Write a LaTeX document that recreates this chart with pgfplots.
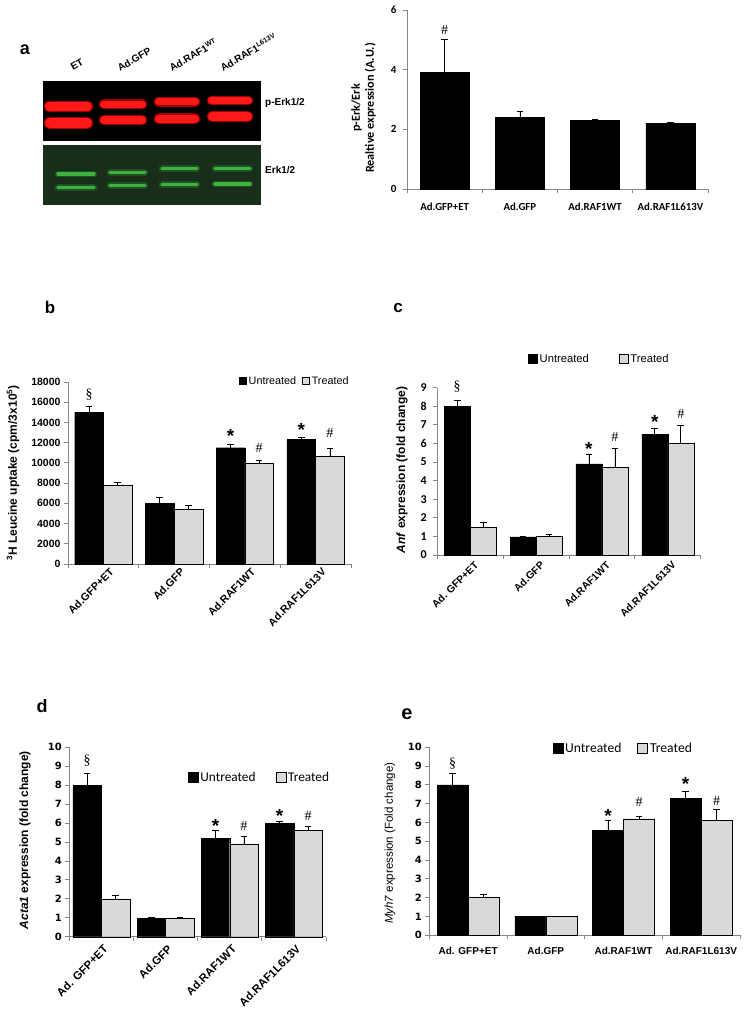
\documentclass[border=0pt]{standalone}
\usepackage{fontspec}
\setmainfont{Liberation Sans}
\newfontfamily\calibri{Carlito}
\newfontfamily\serifff{Liberation Serif}
\newfontfamily\dejavu{DejaVu Sans}
\usepackage{pgfplots}
\pgfplotsset{compat=1.18}
\definecolor{tgray}{RGB}{217,217,217}
\definecolor{axgray}{RGB}{134,134,134}
\definecolor{blotred}{RGB}{255,24,24}
\definecolor{blotglow}{RGB}{200,0,0}
\definecolor{greenbg}{RGB}{24,46,26}
\definecolor{greenband}{RGB}{62,178,62}
\definecolor{greenglow}{RGB}{36,96,38}
\newcommand{\fs}[1]{\fontsize{#1}{#1}\selectfont}
\tikzset{
  star/.style={font=\bfseries\fs{19}, anchor=center, yshift=-4pt},
  hsh/.style={font=\serifff\fs{14}, anchor=center},
}
\pgfplotsset{
  excel/.style={
    scale only axis,
    axis x line=bottom, axis y line=left,
    axis line style={-, draw=axgray, line width=0.8pt},
    xmin=-0.5, xmax=3.5, ymin=0,
    xtick={0,1,2,3},
    minor xtick={-0.5,0.5,1.5,2.5,3.5},
    major x tick style={draw=none},
    minor x tick style={draw=axgray, line width=0.8pt},
    y tick style={draw=axgray, line width=0.8pt},
    tick align=outside,
    major tick length=4pt, minor tick length=4pt,
    /pgf/number format/assume math mode=true,
    /pgf/number format/1000 sep={},
    scaled y ticks=false,
    clip=false,
    xticklabels={Ad.GFP+ET, Ad.GFP, Ad.RAF1WT, Ad.RAF1L613V},
  },
  sqleg/.style={legend image code/.code={\draw[##1, line width=0.6pt] (0pt,-#1) rectangle (2*#1,#1);}},
  ebar/.style={error bars/.cd, y dir=plus, y explicit,
    error bar style={black, line width=0.7pt},
    error mark options={rotate=90, black, line width=0.7pt, mark size=3.3pt}},
}
\begin{document}
\begin{tikzpicture}
\useasboundingbox (0pt,0pt) rectangle (745pt,1018pt);
% ---------------- panel a: blot ----------------
\node[font=\bfseries\fs{18}] at (25pt,968pt) {a};
\begin{axis}[at={(42.7pt,876.7pt)}, anchor=south west, scale only axis,
  width=218.3pt, height=60.6pt, xmin=42.7, xmax=261, ymin=80.7, ymax=141.3,
  y dir=reverse, ticks=none, axis line style={draw=none},
  axis background/.style={fill=black}, clip=false]
\pgfplotsset{rb/.style={blotglow, line width=#1, line cap=round, opacity=0.8},
             rf/.style={blotred, line width=#1, line cap=round}}
\addplot[rb=11.5pt] coordinates {(49.4,106.3) (87.6,106.3)};
\addplot[rb=12.5pt] coordinates {(50,123) (87,123)};
\addplot[rb=10pt] coordinates {(103.7,104.3) (142.3,104.3)};
\addplot[rb=10.5pt] coordinates {(103.9,120.2) (142.1,120.2)};
\addplot[rb=10pt] coordinates {(158.7,101.7) (195.3,101.7)};
\addplot[rb=11pt] coordinates {(159.2,118.8) (194.8,118.8)};
\addplot[rb=9.5pt] coordinates {(211.5,100.5) (248.5,100.5)};
\addplot[rb=11pt] coordinates {(212.2,116.5) (247.8,116.5)};
\addplot[rf=8.7pt] coordinates {(49.4,106.3) (87.6,106.3)};
\addplot[rf=10pt] coordinates {(50,123) (87,123)};
\addplot[rf=7.3pt] coordinates {(103.7,104.3) (142.3,104.3)};
\addplot[rf=7.7pt] coordinates {(103.9,120.2) (142.1,120.2)};
\addplot[rf=7.3pt] coordinates {(158.7,101.7) (195.3,101.7)};
\addplot[rf=8.3pt] coordinates {(159.2,118.8) (194.8,118.8)};
\addplot[rf=7pt] coordinates {(211.5,100.5) (248.5,100.5)};
\addplot[rf=8.3pt] coordinates {(212.2,116.5) (247.8,116.5)};
\node[font=\bfseries\fs{10}, rotate=30, anchor=south west, inner sep=0pt] at (axis cs:73,71) {ET};
\node[font=\bfseries\fs{10}, rotate=30, anchor=south west, inner sep=0pt] at (axis cs:120,72) {Ad.GFP};
\node[font=\bfseries\fs{10}, rotate=30, anchor=south west, inner sep=0pt] at (axis cs:172,72) {Ad.RAF1\textsuperscript{WT}};
\node[font=\bfseries\fs{10}, rotate=30, anchor=south west, inner sep=0pt] at (axis cs:223,72) {Ad.RAF1\textsuperscript{L613V}};
\node[font=\bfseries\fs{10}, anchor=west, inner sep=0pt] at (axis cs:265,103) {p-Erk1/2};
\end{axis}
\begin{axis}[at={(42.7pt,813.3pt)}, anchor=south west, scale only axis,
  width=218.3pt, height=60pt, xmin=42.7, xmax=261, ymin=144.7, ymax=204.7,
  y dir=reverse, ticks=none, axis line style={draw=none},
  axis background/.style={fill=greenbg}, clip=false]
\pgfplotsset{gb/.style={greenglow, line width=6.5pt, line cap=round, opacity=0.7},
             gf/.style={greenband, line width=3.4pt, line cap=round}}
\addplot[gb] coordinates {(58,174) (94,174)};
\addplot[gb] coordinates {(58,187.3) (94,187.3)};
\addplot[gb] coordinates {(110,172.3) (145,172.3)};
\addplot[gb] coordinates {(110,185.7) (145,185.7)};
\addplot[gb] coordinates {(162,168.7) (197,168.7)};
\addplot[gb] coordinates {(162,184.7) (197,184.7)};
\addplot[gb] coordinates {(215,168.7) (250,168.7)};
\addplot[gb] coordinates {(215,184) (250,184)};
\addplot[gf] coordinates {(58,174) (94,174)};
\addplot[gf] coordinates {(58,187.3) (94,187.3)};
\addplot[gf] coordinates {(110,172.3) (145,172.3)};
\addplot[gf] coordinates {(110,185.7) (145,185.7)};
\addplot[gf] coordinates {(162,168.7) (197,168.7)};
\addplot[gf] coordinates {(162,184.7) (197,184.7)};
\addplot[gf] coordinates {(215,168.7) (250,168.7)};
\addplot[gf] coordinates {(215,184) (250,184)};
\node[font=\bfseries\fs{10}, anchor=west, inner sep=0pt] at (axis cs:265,170) {Erk1/2};
\end{axis}
% ---------------- panel a: bar chart ----------------
\begin{axis}[excel, at={(407pt,829pt)}, anchor=south west, width=301pt, height=179pt,
  ymax=6, ytick={0,2,4,6},
  yticklabel style={font=\calibri\bfseries\fs{11}, xshift=-3pt},
  xticklabel style={font=\calibri\bfseries\fs{10.8}, yshift=-6pt},
  xticklabels={Ad.GFP+ET, Ad.GFP, Ad.RAF1WT, Ad.RAF1L613V},
  ylabel={p-Erk/Erk\\Realtive expression (A.U.)},
  ylabel style={at={(axis description cs:-0.1445,0.4525)}, anchor=center, align=center,
    font=\calibri\bfseries\fontsize{12.2}{14}\selectfont}]
\addplot[ybar, bar width=0.65, bar shift=0, fill=black, draw=black, ebar]
  coordinates {(0,3.9) +- (0,1.1) (1,2.4) +- (0,0.2) (2,2.3) +- (0,0.02) (3,2.2) +- (0,0.02)};
\node[hsh] at (axis cs:0,5.33) {\#};
\end{axis}
% ---------------- panel b ----------------
\node[font=\bfseries\fs{17}] at (50pt,711pt) {b};
\begin{axis}[excel, at={(68pt,454pt)}, anchor=south west, width=283pt, height=182pt,
  ymax=18000, ytick={0,2000,...,18000},
  yticklabel style={font=\bfseries\fs{10.5}},
  xticklabel style={font=\bfseries\fs{10.7}, rotate=45, anchor=north east, xshift=8pt},
  ylabel={\textsuperscript{3}H Leucine uptake (cpm/3x10\textsuperscript{5})},
  ylabel style={at={(axis description cs:-0.194,0.5)}, anchor=center, font=\bfseries\fs{12}},
  legend columns=2,
  legend style={at={(axis description cs:0.604,1.005)}, anchor=west, draw=none, fill=none,
    font=\fs{10.8}, inner sep=0pt, /tikz/every even column/.append style={column sep=4pt}},
  ]
\addplot[ybar, bar width=0.405, bar shift=0, fill=black, draw=black, sqleg=3.5pt, ebar]
  coordinates {(-0.2025,15000) +- (0,600) (0.7975,6000) +- (0,600) (1.7975,11500) +- (0,350) (2.7975,12300) +- (0,200)};
\addplot[ybar, bar width=0.405, bar shift=0, fill=tgray, draw=black, sqleg=3.5pt, ebar]
  coordinates {(0.2025,7800) +- (0,300) (1.2025,5450) +- (0,350) (2.2025,10000) +- (0,300) (3.2025,10700) +- (0,700)};
\legend{Untreated, Treated}
\node[hsh] at (axis cs:-0.2025,16730) {\S};
\node[star] at (axis cs:1.7975,13100) {*};
\node[hsh] at (axis cs:2.2025,11520) {\#};
\node[star] at (axis cs:2.7975,13660) {*};
\node[hsh] at (axis cs:3.2025,13000) {\#};
\end{axis}
% ---------------- panel c ----------------
\node[font=\bfseries\fs{17}] at (398pt,710pt) {c};
\begin{axis}[excel, at={(437.3pt,463pt)}, anchor=south west, width=263.4pt, height=167.3pt,
  ymax=9, ytick={0,1,...,9},
  yticklabel style={font=\calibri\bfseries\fs{12}, xshift=-3pt},
  xticklabel style={font=\bfseries\fs{10.3}, rotate=45, anchor=north east, xshift=5pt},
  xticklabels={Ad. GFP+ET, Ad.GFP, Ad.RAF1WT, Ad.RAF1L613V},
  ylabel={\textbf{\textit{Anf}} expression (fold change)},
  ylabel style={at={(axis description cs:-0.134,0.508)}, anchor=center, font=\bfseries\fs{12}},
  legend columns=2,
  legend style={at={(axis description cs:0.344,1.1716)}, anchor=west, draw=none, fill=none,
    font=\fs{11.2}, inner sep=0pt, /tikz/every even column/.append style={column sep=28pt}},
  ]
\addplot[ybar, bar width=0.395, bar shift=0, fill=black, draw=black, sqleg=4.5pt, ebar]
  coordinates {(-0.1975,8.0) +- (0,0.33) (0.8025,0.98) +- (0,0.03) (1.8025,4.9) +- (0,0.5) (2.8025,6.5) +- (0,0.3)};
\addplot[ybar, bar width=0.395, bar shift=0, fill=tgray, draw=black, sqleg=4.5pt, ebar]
  coordinates {(0.1975,1.5) +- (0,0.27) (1.1975,1.02) +- (0,0.08) (2.1975,4.7) +- (0,1.05) (3.1975,6.0) +- (0,0.95)};
\legend{Untreated, Treated}
\node[hsh] at (axis cs:-0.1975,9.05) {\S};
\node[star] at (axis cs:1.8025,5.91) {*};
\node[hsh] at (axis cs:2.1975,6.36) {\#};
\node[star] at (axis cs:2.8025,7.38) {*};
\node[hsh] at (axis cs:3.1975,7.58) {\#};
\end{axis}
% ---------------- panel d ----------------
\node[font=\bfseries\fs{18}] at (42pt,312pt) {d};
\begin{axis}[excel, at={(69.3pt,81.3pt)}, anchor=south west, width=256.7pt, height=189.4pt,
  ymax=10, ytick={0,1,...,10},
  yticklabel style={font=\dejavu\bfseries\fs{10}},
  xticklabel style={font=\bfseries\fs{11.3}, rotate=45, anchor=north east, xshift=2pt},
  xticklabels={Ad. GFP+ET, Ad.GFP, Ad.RAF1WT, Ad.RAF1L613V},
  ylabel={\textbf{\textit{Acta1}} expression (fold change)},
  ylabel style={at={(axis description cs:-0.1726,0.51)}, anchor=center, font=\bfseries\fs{12}},
  legend columns=2,
  legend style={at={(axis description cs:0.461,0.8395)}, anchor=west, draw=none, fill=none,
    font=\calibri\fs{13.3}, inner sep=0pt, /tikz/every even column/.append style={column sep=18pt}},
  ]
\addplot[ybar, bar width=0.444, bar shift=0, fill=black, draw=black, sqleg=5pt, ebar]
  coordinates {(-0.222,8.0) +- (0,0.6) (0.778,0.98) +- (0,0.02) (1.778,5.2) +- (0,0.4) (2.778,6.0) +- (0,0.1)};
\addplot[ybar, bar width=0.444, bar shift=0, fill=tgray, draw=black, sqleg=5pt, ebar]
  coordinates {(0.222,2.0) +- (0,0.2) (1.222,1.0) +- (0,0.01) (2.222,4.9) +- (0,0.4) (3.222,5.6) +- (0,0.2)};
\legend{Untreated, Treated}
\node[hsh] at (axis cs:-0.222,9.29) {\S};
\node[star] at (axis cs:1.778,6.07) {*};
\node[hsh] at (axis cs:2.222,5.86) {\#};
\node[star] at (axis cs:2.778,6.57) {*};
\node[hsh] at (axis cs:3.222,6.37) {\#};
\end{axis}
% ---------------- panel e ----------------
\node[font=\bfseries\fs{20}] at (407pt,304pt) {e};
\begin{axis}[excel, at={(429.3pt,82.7pt)}, anchor=south west, width=310.7pt, height=188pt,
  ymax=10, ytick={0,1,...,10},
  yticklabel style={font=\dejavu\bfseries\fs{10}},
  xticklabel style={font=\bfseries\fs{10}, yshift=-4pt},
  xticklabels={Ad. GFP+ET, Ad.GFP, Ad.RAF1WT, Ad.RAF1L613V},
  ylabel={\textit{Myh7} expression (Fold change)},
  ylabel style={at={(axis description cs:-0.1265,0.49)}, anchor=center, font=\fs{11.5}},
  legend columns=2,
  legend style={at={(axis description cs:0.396,0.995)}, anchor=west, draw=none, fill=none,
    font=\calibri\fs{13.6}, inner sep=0pt, /tikz/every even column/.append style={column sep=14pt}},
  ]
\addplot[ybar, bar width=0.399, bar shift=0, fill=black, draw=black, sqleg=5pt, ebar]
  coordinates {(-0.2,8.0) +- (0,0.6) (0.8,1.0) +- (0,0.01) (1.8,5.6) +- (0,0.5) (2.8,7.3) +- (0,0.35)};
\addplot[ybar, bar width=0.399, bar shift=0, fill=tgray, draw=black, sqleg=5pt, ebar]
  coordinates {(0.2,2.0) +- (0,0.2) (1.2,1.0) +- (0,0.01) (2.2,6.2) +- (0,0.12) (3.2,6.1) +- (0,0.6)};
\legend{Untreated, Treated}
\node[hsh] at (axis cs:-0.2,9.15) {\S};
\node[star] at (axis cs:1.8,6.57) {*};
\node[hsh] at (axis cs:2.2,7.1) {\#};
\node[star] at (axis cs:2.8,8.26) {*};
\node[hsh] at (axis cs:3.2,7.14) {\#};
\end{axis}
\end{tikzpicture}
\end{document}
